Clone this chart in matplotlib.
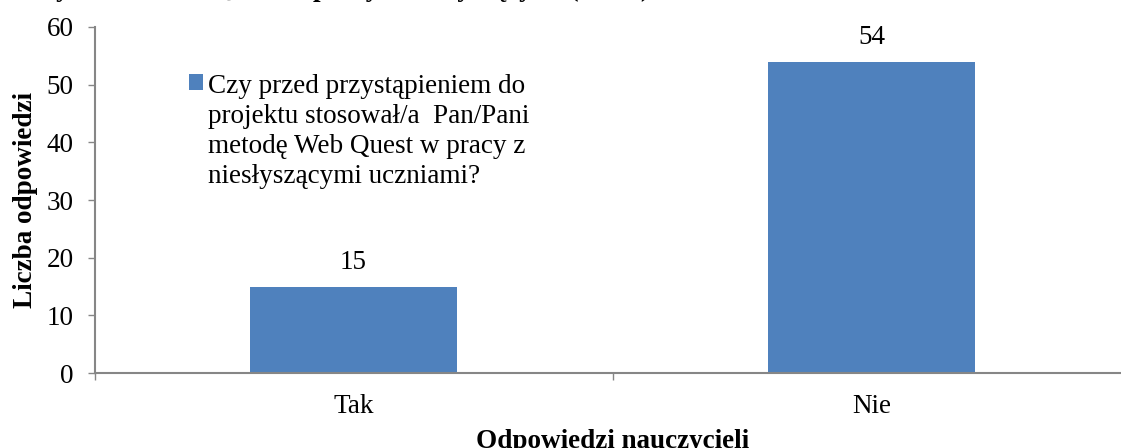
import matplotlib
matplotlib.use('Agg')
import matplotlib.pyplot as plt

# Dane z wykresu
kategorie = ['Tak', 'Nie']
odpowiedzi = [15, 54]
etykieta_serii = ('Czy przed przystąpieniem do\nprojektu stosował/a  Pan/Pani\n'
                  'metodę Web Quest w pracy z\nniesłyszącymi uczniami?')
tytul = 'Wykres 5. Web Quest w pracy z niesłyszącymi (N=69)'
y_ticks = [0, 10, 20, 30, 40, 50, 60]

plt.rcParams['font.family'] = ['Liberation Serif', 'DejaVu Serif']
plt.rcParams['font.size'] = 19.5

kolor = '#4F81BD'
szary = '#868686'

fig = plt.figure(figsize=(11.21, 4.48), dpi=100)
ax = fig.add_axes([94.5 / 1121, 75 / 448, 1036 / 1121, 346 / 448])

x = list(range(len(kategorie)))
slupki = ax.bar(x, odpowiedzi, width=0.4, color=kolor, label=etykieta_serii)
ax.bar_label(slupki, padding=8)

ax.set_xlim(-0.5, 1.5)
ax.set_ylim(0, 60)
ax.set_yticks(y_ticks)
ax.set_xticks(x)
ax.set_xticklabels(kategorie)
ax.set_xticks([-0.5, 0.5, 1.5], minor=True)
ax.tick_params(axis='x', which='major', length=0, pad=15)
ax.tick_params(axis='x', which='minor', length=5, color=szary, width=1)
ax.tick_params(axis='y', length=5, color=szary, width=1, pad=10)

for s in ['top', 'right']:
    ax.spines[s].set_visible(False)
for s in ['left', 'bottom']:
    ax.spines[s].set_color(szary)
    ax.spines[s].set_linewidth(1.5)

ax.set_ylabel('Liczba odpowiedzi', fontweight='bold', labelpad=6)
ax.set_xlabel('Odpowiedzi nauczycieli', fontweight='bold', labelpad=7)

leg = ax.legend(loc='upper left', bbox_to_anchor=(189 / 1121, 1 - 74 / 448),
                bbox_transform=fig.transFigure, frameon=False,
                handlelength=0.52, handleheight=0.52, handletextpad=0.2,
                borderpad=0, borderaxespad=0)
leg.get_texts()[0].set_linespacing(1.26)
# kwadrat przy pierwszej linii opisu
for kol in leg._legend_handle_box.get_children():
    for wiersz in kol.get_children():
        wiersz.align = 'top'
        wiersz.get_children()[0].set_offset((0, -3))

# tytuł przycięty u góry, jak w oryginale
fig.text(30 / 1121, 1 + 3.5 / 448, tytul, fontweight='bold',
         ha='left', va='baseline')

fig.savefig('out.png', dpi=100)
